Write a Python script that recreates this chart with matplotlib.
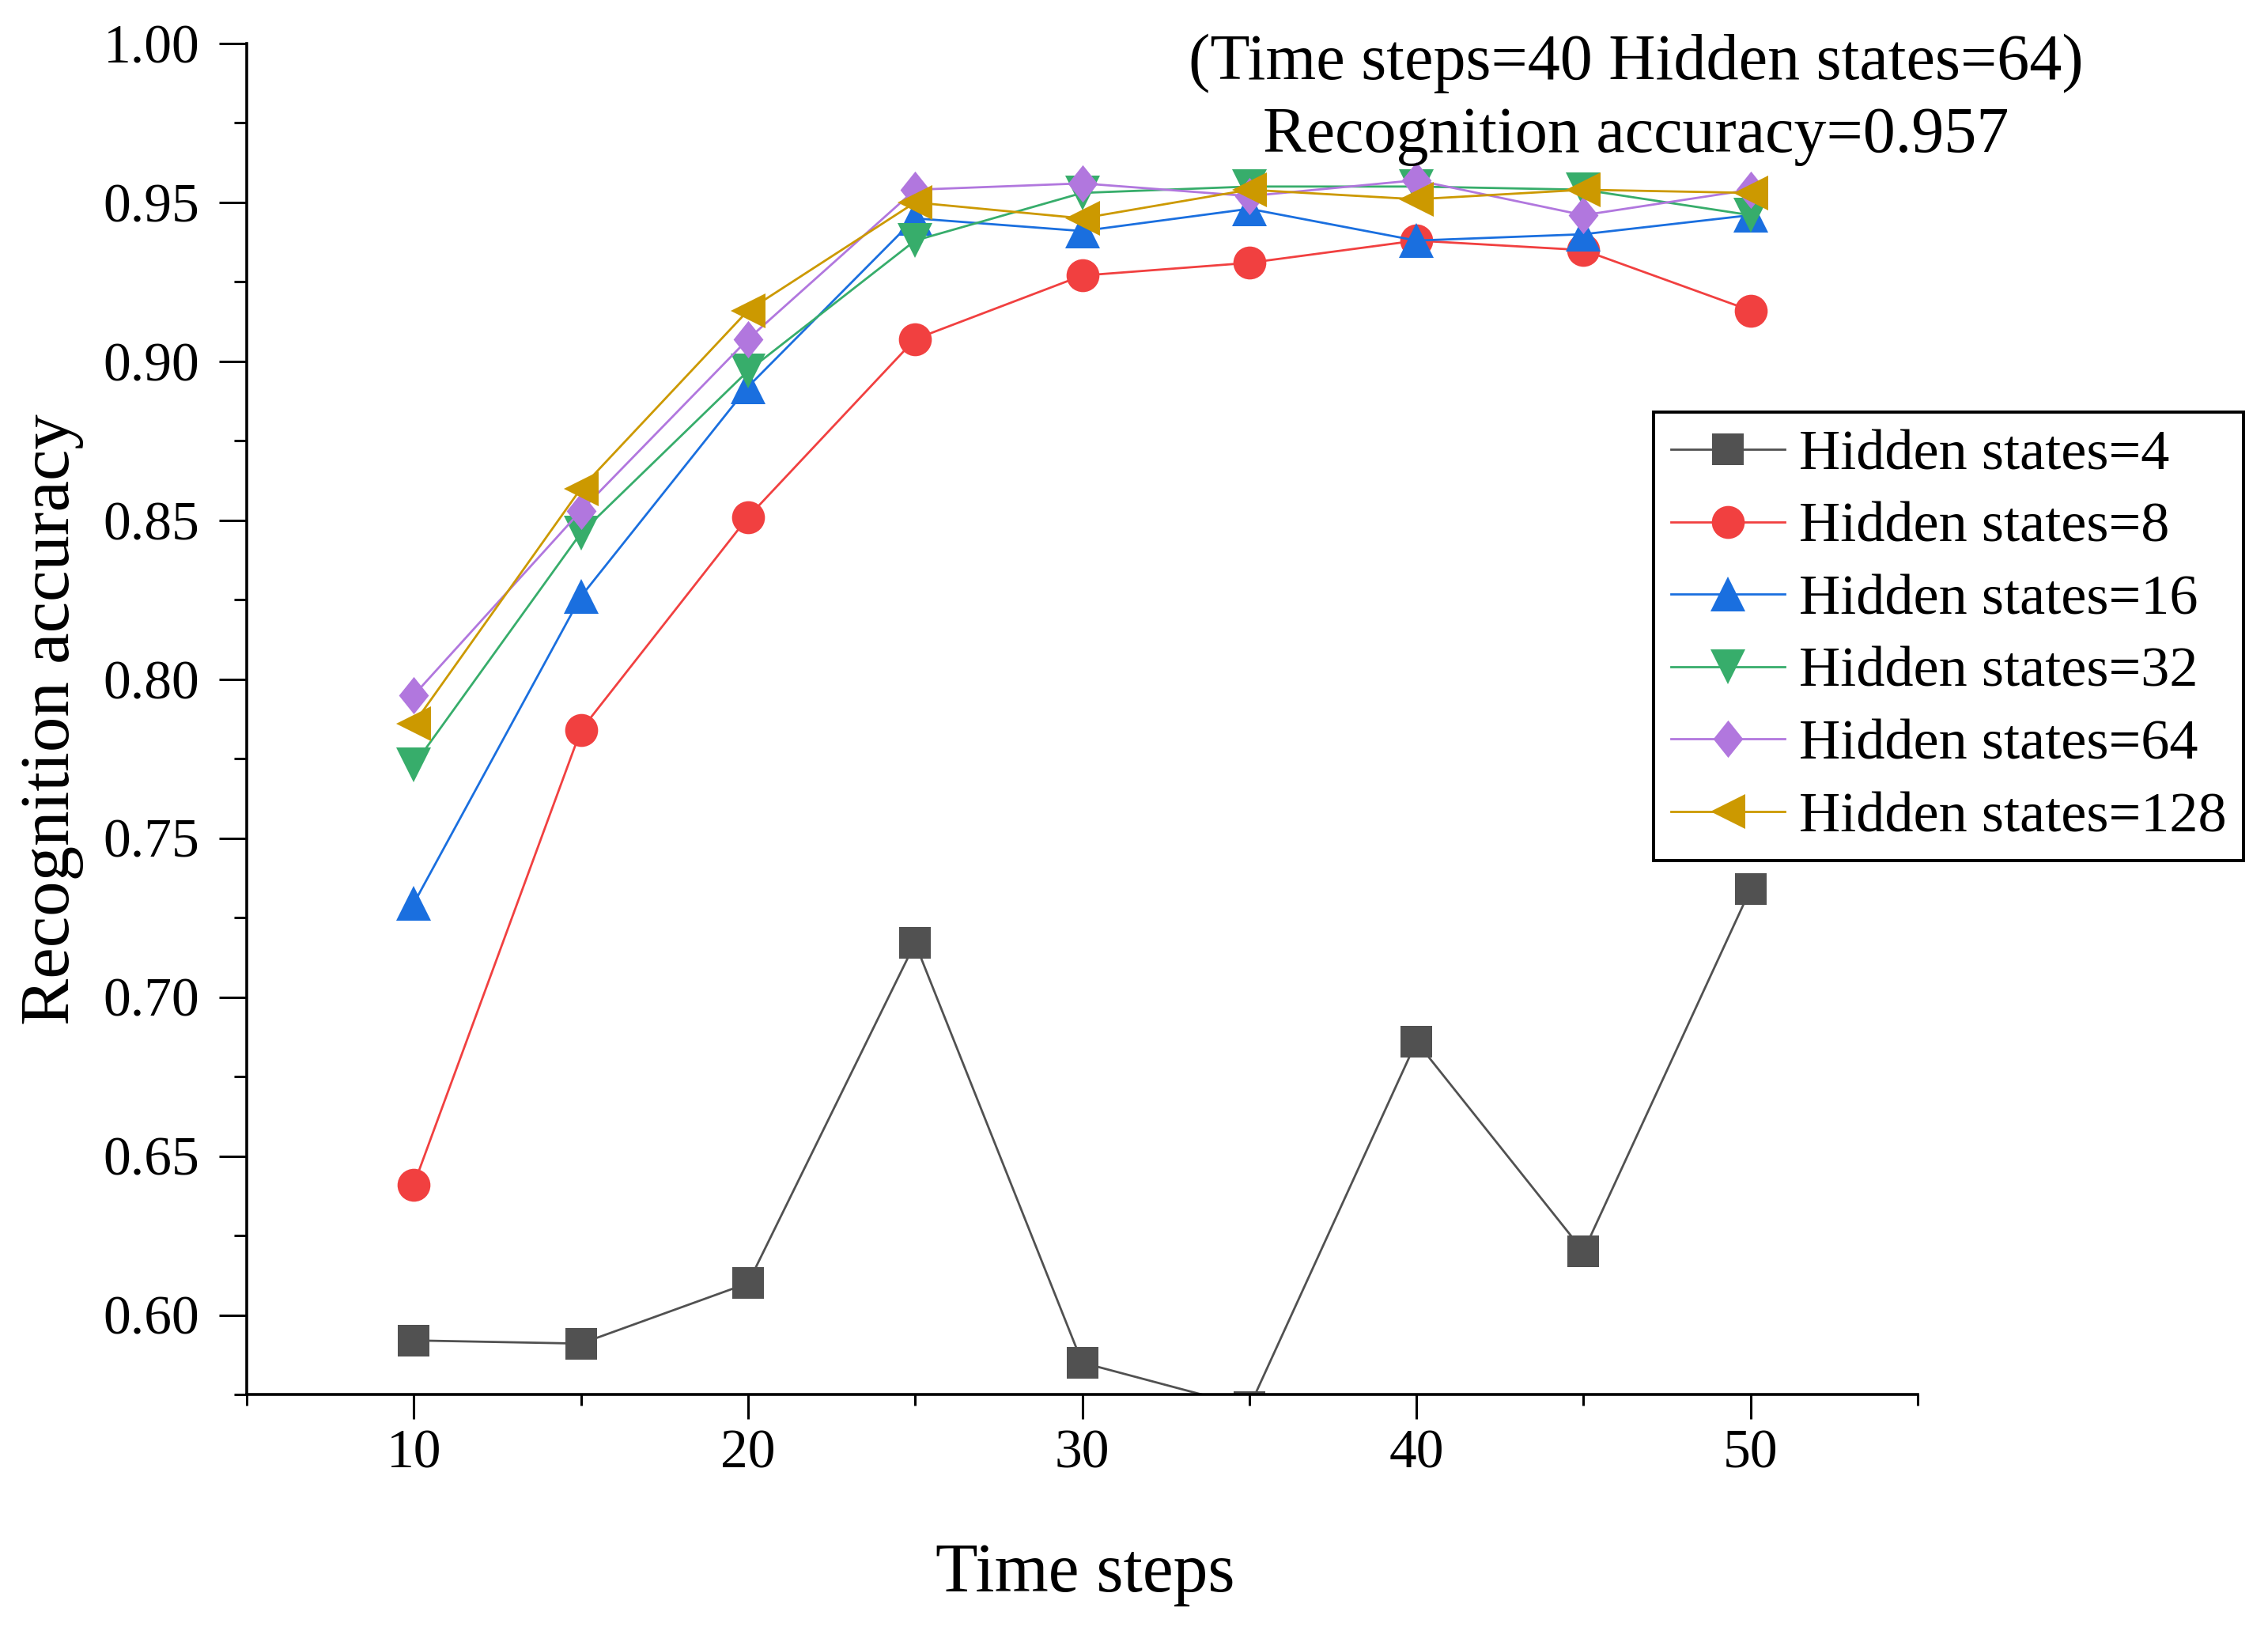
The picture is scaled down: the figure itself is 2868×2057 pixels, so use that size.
import matplotlib
matplotlib.use("Agg")
import matplotlib.pyplot as plt
from matplotlib.path import Path
from matplotlib.ticker import MultipleLocator

plt.rcParams['font.family'] = ['Liberation Serif', 'DejaVu Serif']

time_steps = [10, 15, 20, 25, 30, 35, 40, 45, 50]
hs4 = [0.592, 0.591, 0.610, 0.717, 0.585, 0.571, 0.686, 0.620, 0.734]
hs8 = [0.641, 0.784, 0.851, 0.907, 0.927, 0.931, 0.938, 0.935, 0.916]
hs16 = [0.7295, 0.826, 0.892, 0.945, 0.941, 0.948, 0.938, 0.940, 0.946]
hs32 = [0.773, 0.846, 0.897, 0.938, 0.953, 0.955, 0.955, 0.954, 0.946]
hs64 = [0.795, 0.853, 0.907, 0.954, 0.956, 0.952, 0.957, 0.946, 0.954]
hs128 = [0.786, 0.860, 0.916, 0.950, 0.945, 0.954, 0.951, 0.954, 0.953]
labels = ['Hidden states=4', 'Hidden states=8', 'Hidden states=16',
          'Hidden states=32', 'Hidden states=64', 'Hidden states=128']
colors = ['#515151', '#F14040', '#1A6FDF', '#37AD6B', '#B177DE', '#CC9900']

diamond = Path([(0, 1), (0.8, 0), (0, -1), (-0.8, 0), (0, 1)],
               [Path.MOVETO, Path.LINETO, Path.LINETO, Path.LINETO, Path.CLOSEPOLY])
markers = ['s', 'o', '^', 'v', diamond, '<']
msizes = [29, 30, 31, 31, 34, 31]
series = [hs4, hs8, hs16, hs32, hs64, hs128]

fig = plt.figure(figsize=(28.68, 20.57), dpi=100)
ax = fig.add_axes([312/2868, 1 - 1763/2057, (2425 - 312)/2868, (1763 - 55)/2057])

for ys, lab, c, m, ms in zip(series, labels, colors, markers, msizes):
    ax.plot(time_steps, ys, color=c, marker=m, markersize=ms, linewidth=2.0,
            markeredgewidth=0, label=lab)

ax.set_xlim(5, 55)
ax.set_ylim(0.575, 1.0)
ax.xaxis.set_major_locator(MultipleLocator(10))
ax.xaxis.set_minor_locator(MultipleLocator(5))
ax.yaxis.set_major_locator(MultipleLocator(0.05))
ax.yaxis.set_minor_locator(MultipleLocator(0.025))
ax.yaxis.set_major_formatter(matplotlib.ticker.FormatStrFormatter('%.2f'))

for s in ['top', 'right']:
    ax.spines[s].set_visible(False)
for s in ['left', 'bottom']:
    ax.spines[s].set_linewidth(2.6)

ax.tick_params(axis='y', which='major', direction='out', length=25, width=2.2,
               labelsize=50, pad=18)
ax.tick_params(axis='y', which='minor', direction='out', length=11.5, width=2.2)
ax.tick_params(axis='x', which='major', direction='out', length=22, width=2.2,
               labelsize=50, pad=10)
ax.tick_params(axis='x', which='minor', direction='out', length=10, width=2.2)

fig.text(1372/2868, 1 - 2012/2057, 'Time steps', fontsize=63,
         ha='center', va='baseline')
fig.text(66/2868, 1 - 910/2057, 'Recognition accuracy', fontsize=64,
         rotation=90, ha='center', va='center')

fig.text(2069/2868, 1 - 100/2057, '(Time steps=40 Hidden states=64)',
         fontsize=59, ha='center', va='baseline')
fig.text(2069/2868, 1 - 192/2057, 'Recognition accuracy=0.957',
         fontsize=59, ha='center', va='baseline')

leg = ax.legend(loc='upper left', bbox_to_anchor=(2091/2868, 1 - 521/2057),
                bbox_transform=fig.transFigure, borderaxespad=0,
                fontsize=52, frameon=True, fancybox=False, framealpha=1,
                edgecolor='black', handlelength=2.0, handletextpad=0.25,
                labelspacing=0.36, borderpad=0.3)
leg.get_frame().set_linewidth(2.8)

fig.savefig('out.png', dpi=100)
